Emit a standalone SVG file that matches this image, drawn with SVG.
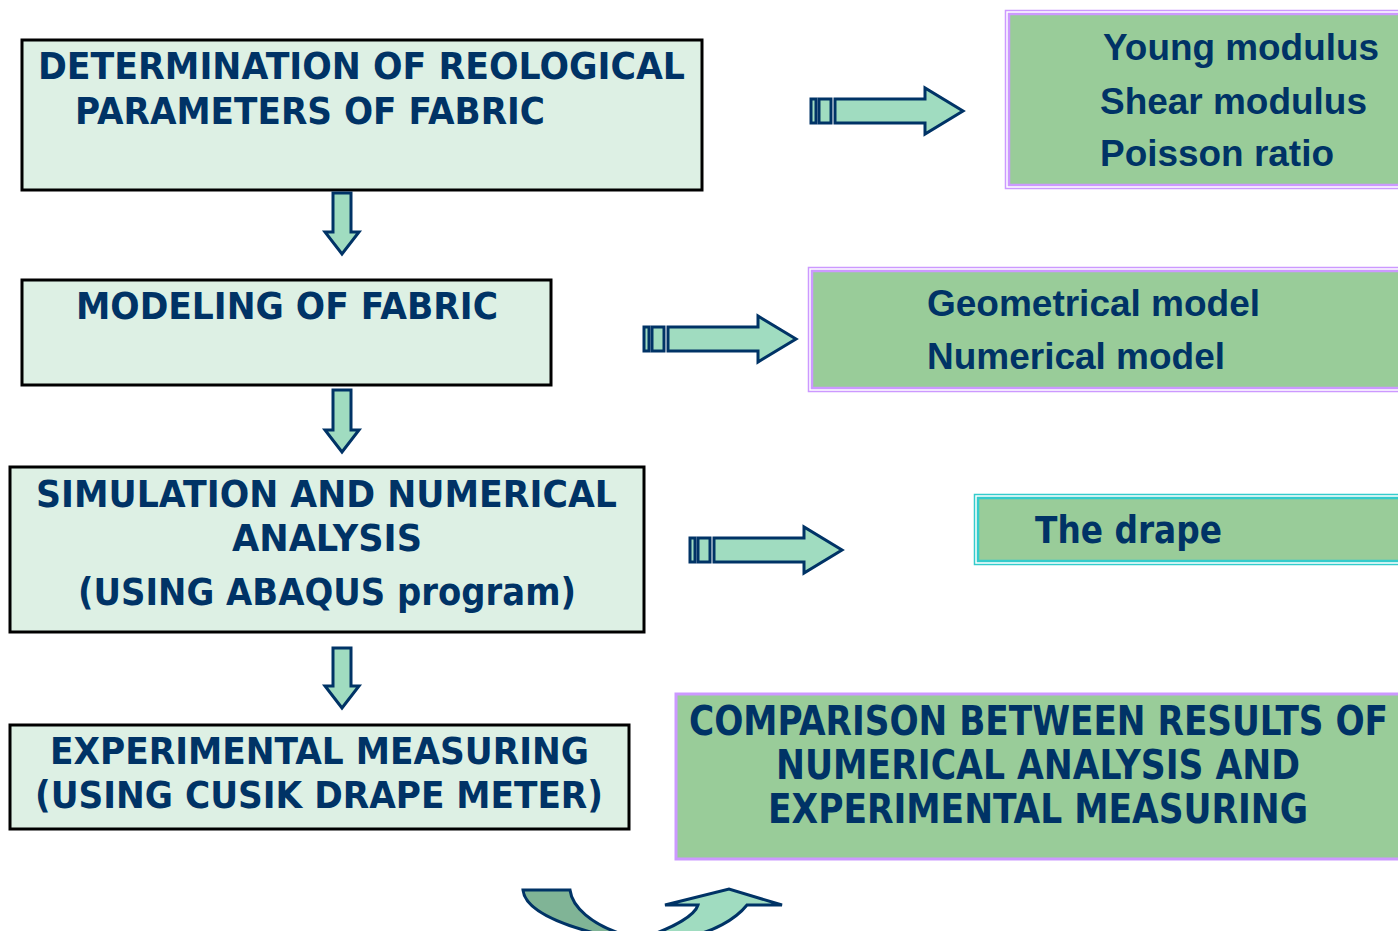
<svg xmlns="http://www.w3.org/2000/svg" width="1398" height="931" viewBox="0 0 1398 931">
  <defs>
    <style>
      .step { fill: #ddf0e4; stroke: #000; stroke-width: 3; }
      .step-t { font-family: "DejaVu Sans", Verdana, sans-serif; font-weight: bold; font-size: 37px; fill: #003366; }
      .res { fill: #99cc99; }
      .res-out { fill: none; stroke: #cc99ff; stroke-width: 1.5; }
      .res-in { fill: #99cc99; stroke: #cc99ff; stroke-width: 2.5; }
      .drape-out { fill: none; stroke: #33cccc; stroke-width: 1.5; }
      .drape-in { fill: #99cc99; stroke: #33cccc; stroke-width: 2.5; }
      .res-t { font-family: "Liberation Sans", Arial, sans-serif; font-weight: bold; font-size: 37px; fill: #003366; }
      .verd-t { font-family: "DejaVu Sans", Verdana, sans-serif; font-weight: bold; font-size: 37px; fill: #003366; }
      .cmp-t { font-family: "DejaVu Sans Condensed", "DejaVu Sans", sans-serif; font-weight: bold; font-size: 40px; fill: #003366; }
      .arrow { fill: #a0dcc0; stroke: #003366; stroke-width: 3; stroke-linejoin: miter; }
      .arrow-dark { fill: #80b496; stroke: #003366; stroke-width: 3; }
    </style>
  </defs>

  <!-- Process steps -->
  <g id="step-reological">
    <rect class="step" x="22" y="40" width="680" height="150"/>
    <text class="step-t" x="38" y="79" textLength="647" lengthAdjust="spacingAndGlyphs">DETERMINATION OF REOLOGICAL</text>
    <text class="step-t" x="75" y="124" textLength="470" lengthAdjust="spacingAndGlyphs">PARAMETERS OF FABRIC</text>
  </g>

  <g id="step-modeling">
    <rect class="step" x="22" y="280" width="529" height="105"/>
    <text class="step-t" x="76" y="319" textLength="422" lengthAdjust="spacingAndGlyphs">MODELING OF FABRIC</text>
  </g>

  <g id="step-simulation">
    <rect class="step" x="10" y="467" width="634" height="165"/>
    <text class="step-t" x="36" y="507" textLength="581" lengthAdjust="spacingAndGlyphs">SIMULATION AND NUMERICAL</text>
    <text class="step-t" x="232" y="551" textLength="190" lengthAdjust="spacingAndGlyphs">ANALYSIS</text>
    <text class="step-t" x="78" y="605" textLength="498" lengthAdjust="spacingAndGlyphs">(USING ABAQUS program)</text>
  </g>

  <g id="step-experiment">
    <rect class="step" x="10" y="725" width="619" height="104"/>
    <text class="step-t" x="50" y="764" textLength="539" lengthAdjust="spacingAndGlyphs">EXPERIMENTAL MEASURING</text>
    <text class="step-t" x="35" y="808" textLength="568" lengthAdjust="spacingAndGlyphs">(USING CUSIK DRAPE METER)</text>
  </g>

  <!-- Results -->
  <g id="result-parameters">
    <rect class="res-out" x="1005.5" y="10.5" width="400" height="178"/>
    <rect class="res-in" x="1009" y="14" width="400" height="171"/>
    <text class="res-t" x="1103" y="60" textLength="276" lengthAdjust="spacingAndGlyphs">Young modulus</text>
    <text class="res-t" x="1100" y="114" textLength="267" lengthAdjust="spacingAndGlyphs">Shear modulus</text>
    <text class="res-t" x="1100" y="166" textLength="234" lengthAdjust="spacingAndGlyphs">Poisson ratio</text>
  </g>

  <g id="result-models">
    <rect class="res-out" x="808.5" y="267.5" width="600" height="124"/>
    <rect class="res-in" x="812" y="271" width="600" height="117"/>
    <text class="res-t" x="927" y="316" textLength="333" lengthAdjust="spacingAndGlyphs">Geometrical model</text>
    <text class="res-t" x="927" y="369" textLength="298" lengthAdjust="spacingAndGlyphs">Numerical model</text>
  </g>

  <g id="result-drape">
    <rect class="drape-out" x="974.5" y="494.5" width="430" height="70"/>
    <rect class="drape-in" x="978" y="498" width="430" height="63"/>
    <text class="verd-t" x="1035" y="543" textLength="187" lengthAdjust="spacingAndGlyphs">The drape</text>
  </g>

  <g id="result-comparison">
    <rect class="res" x="676" y="694" width="730" height="165" stroke="#cc99ff" stroke-width="3"/>
    <text class="cmp-t" x="689" y="735" textLength="699" lengthAdjust="spacingAndGlyphs">COMPARISON BETWEEN RESULTS OF</text>
    <text class="cmp-t" x="776" y="779" textLength="524" lengthAdjust="spacingAndGlyphs">NUMERICAL ANALYSIS AND</text>
    <text class="cmp-t" x="768" y="823" textLength="540" lengthAdjust="spacingAndGlyphs">EXPERIMENTAL MEASURING</text>
  </g>

  <!-- Connectors -->
  <g id="connectors">
    <!-- downward block arrows between steps -->
    <path class="arrow" d="M333,193 H351 V232 H359 L342,254 L325,232 H333 Z"/>
    <path class="arrow" d="M333,390 H351 V430 H359 L342,452 L325,430 H333 Z"/>
    <path class="arrow" d="M333,648 H351 V686 H359 L342,708 L325,686 H333 Z"/>

    <!-- striped block arrows to results -->
    <g>
      <rect class="arrow" x="811" y="99" width="5" height="24"/>
      <rect class="arrow" x="819" y="99" width="12" height="24"/>
      <path class="arrow" d="M835,99 H925 V88 L963,111 L925,134 V123 H835 Z"/>
    </g>
    <g>
      <rect class="arrow" x="644" y="327" width="5" height="24"/>
      <rect class="arrow" x="652" y="327" width="12" height="24"/>
      <path class="arrow" d="M668,327 H758 V316 L796,339 L758,362 V351 H668 Z"/>
    </g>
    <g>
      <rect class="arrow" x="690" y="538" width="5" height="24"/>
      <rect class="arrow" x="698" y="538" width="12" height="24"/>
      <path class="arrow" d="M714,538 H804 V527 L842,550 L804,573 V562 H714 Z"/>
    </g>

    <!-- curved return arrow -->
    <path class="arrow-dark" d="M523,890 H570 C572,906 590,925 628,936 H606 C560,925 525,910 523,890 Z"/>
    <path class="arrow" d="M648,936 C675,927 695,915 698,905 H665 L729,889 L782,905 H747 C735,920 712,932 690,936 Z"/>
  </g>
</svg>
